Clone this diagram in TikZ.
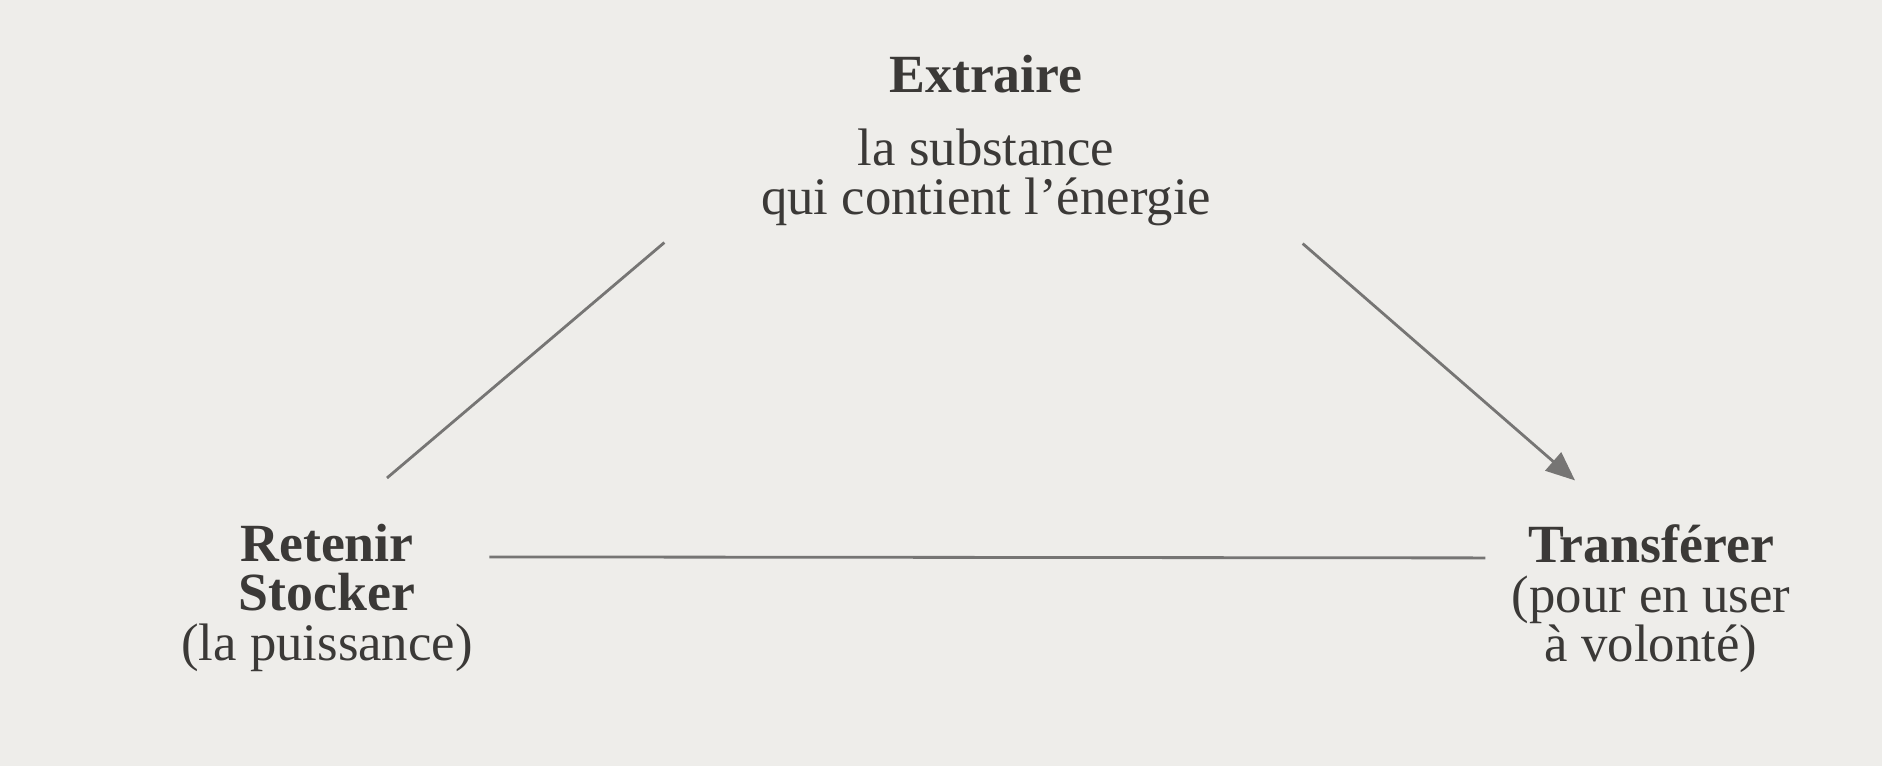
\documentclass[tikz,border=0pt]{standalone}
\usepackage{fontspec}
\setmainfont{Liberation Serif}
\usepackage{xcolor}
\usepackage{tikz}
\usetikzlibrary{arrows.meta,calc,positioning}
\definecolor{Paper}{HTML}{EEEDEA}
\definecolor{Print}{HTML}{3B3937}
\definecolor{Pencil}{HTML}{767574}

\begin{document}
\begin{tikzpicture}[
  font=\fontsize{15pt}{14pt}\selectfont,
  gloss/.style={text=Print,inner sep=0pt,anchor=base},
  verb/.style={gloss,font=\fontsize{15.3pt}{14pt}\selectfont\bfseries},
  link/.style={Pencil,line width=0.8pt},
  arr/.style={link,-{Triangle[length=2.9mm,width=2.4mm]}}
]
\useasboundingbox[fill=Paper] (0,0) rectangle (18.82,7.66);

% top corner
\node[verb] (extraire) at (9.86,6.73) {Extraire};
\node[gloss,below=7.3mm of extraire.base,anchor=base] (substance) {la substance};
\node[gloss,below=4.85mm of substance.base,anchor=base] (energie) {qui contient l’énergie};

% left corner
\node[verb] (retenir) at (3.27,2.04) {Retenir};
\node[verb,below=4.85mm of retenir.base,anchor=base] (stocker) {Stocker};
\node[gloss,below=5.0mm of stocker.base,anchor=base] (puissance) {(la puissance)};

% right corner
\node[verb] (transferer) at (16.51,2.03) {Transférer};
\node[gloss,below=5.0mm of transferer.base,anchor=base] (user) {(pour en user};
\node[gloss,below=4.9mm of user.base,anchor=base] (volonte) {à volonté)};

\draw[link] ($(retenir.north)+(0.6,0.46)$)--($(energie.south west)+(-0.96,-0.16)$);
\draw[arr] ($(energie.south east)+(0.91,-0.17)$)--($(transferer.north)+(-0.76,0.44)$);
\draw[link] ($(retenir.mid east)+(0.75,-0.03)$)--($(transferer.mid west)+(-0.42,-0.03)$);
\end{tikzpicture}
\end{document}
